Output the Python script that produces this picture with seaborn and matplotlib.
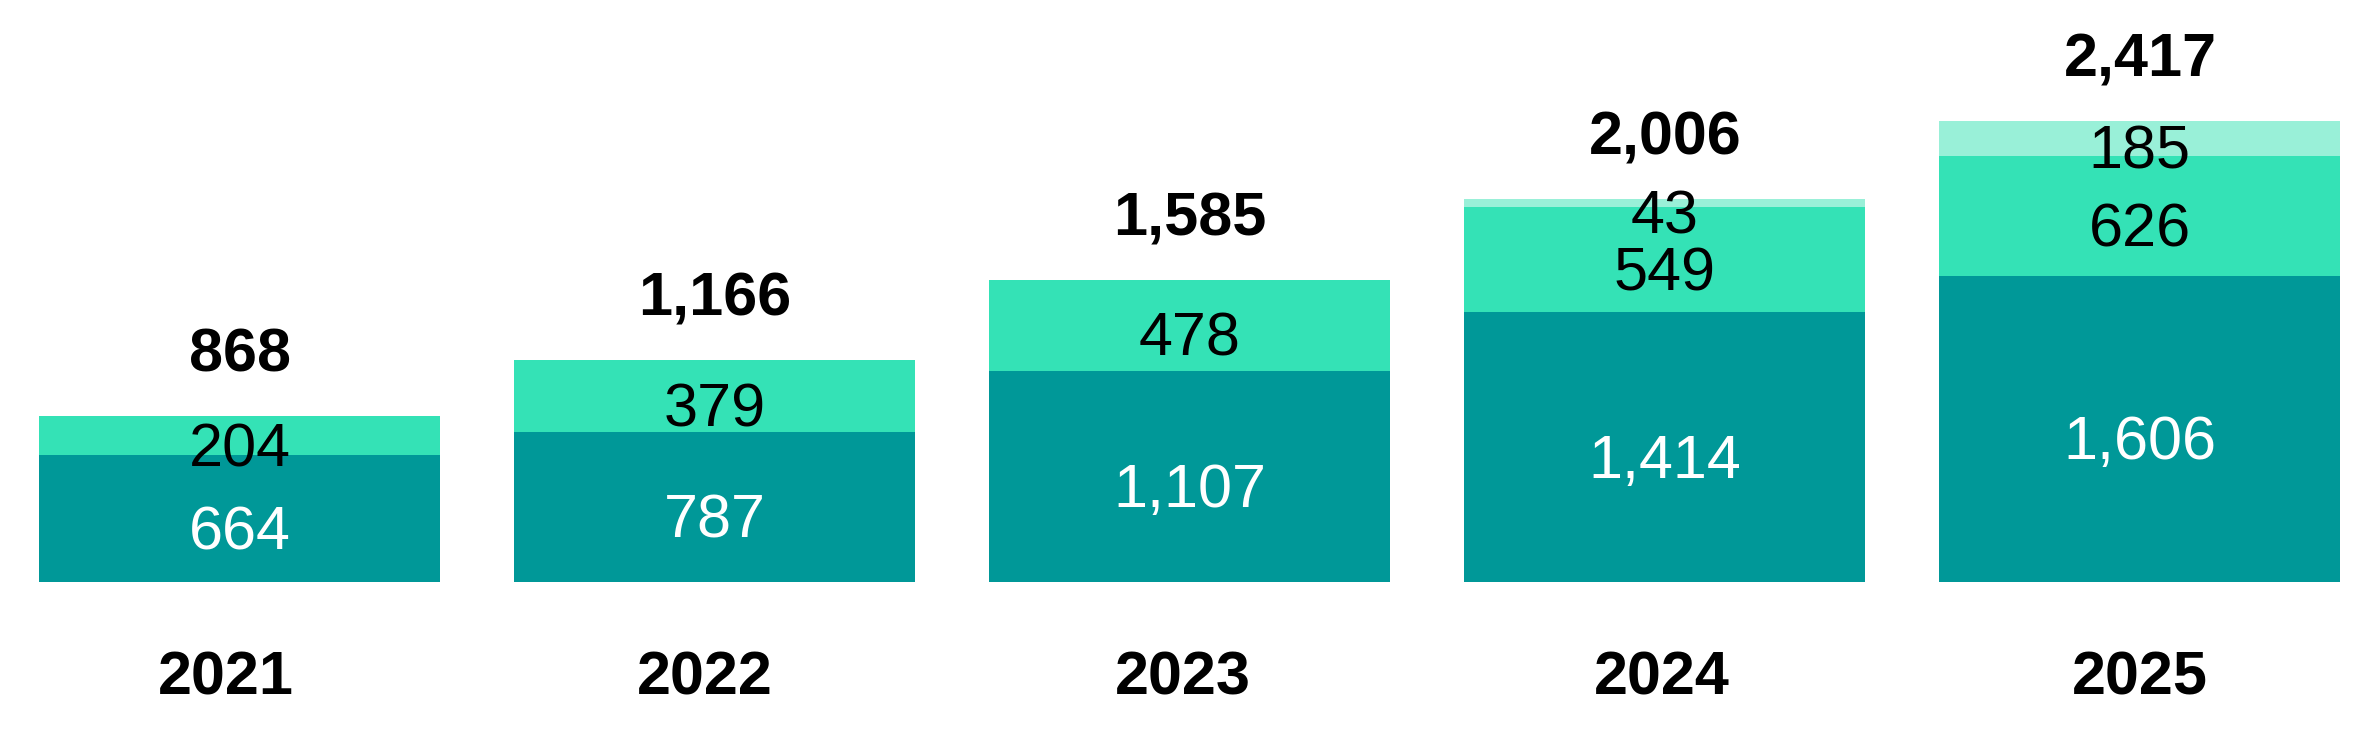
import matplotlib.pyplot as plt
import numpy as np
import pandas as pd
import seaborn as sns

# 数据
years = ["2021", "2022", "2023", "2024", "2025"]
base = [664, 787, 1107, 1414, 1606]
middle = [204, 379, 478, 549, 626]
top = [0, 0, 0, 43, 185]
totals = [868, 1166, 1585, 2006, 2417]

c_base = "#009898"
c_mid = "#34E2B6"
c_top = "#99F0D8"

sns.set_style("white")
plt.rcParams["font.family"] = ["Liberation Sans", "DejaVu Sans"]

df = pd.DataFrame({"year": years, "base": base, "middle": middle, "top": top})
df["lvl2"] = df["base"] + df["middle"]
df["lvl3"] = df["lvl2"] + df["top"]

fig = plt.figure(figsize=(23.76, 7.32), dpi=100)
ax = fig.add_axes([0, 150 / 732, 1, 582 / 732])

# 从上往下画累计高度，形成堆叠效果
for col, c in [("lvl3", c_top), ("lvl2", c_mid), ("base", c_base)]:
    sns.barplot(data=df, x="year", y=col, order=years, color=c, width=0.844,
                saturation=1, linewidth=0, edgecolor="none", ax=ax)

ax.set_xlim(-0.505, 4.497)
ax.set_ylim(0, 3050)
ax.set_xlabel("")
ax.set_ylabel("")
ax.set_xticks([])
ax.set_yticks([])
sns.despine(ax=ax, left=True, bottom=True)

fs = 44
for i in range(len(years)):
    segs = [(0, base[i], "white"),
            (base[i], middle[i], "black"),
            (base[i] + middle[i], top[i], "black")]
    for start, h, col in segs:
        if h <= 0:
            continue
        ax.annotate(f"{h:,}", (i, start + h / 2), xytext=(0, -22),
                    textcoords="offset points", ha="center", va="baseline",
                    fontsize=fs, color=col)
    ax.annotate(f"{totals[i]:,}", (i, totals[i]), xytext=(0, 32),
                textcoords="offset points", ha="center", va="baseline",
                fontsize=fs, fontweight="bold", color="black")
    ax.annotate(years[i], (i, 0), xytext=(-(4 - i) * 2.5, -81),
                textcoords="offset points", ha="center", va="baseline",
                fontsize=fs, fontweight="bold", color="black",
                annotation_clip=False)

fig.savefig("out.png", dpi=100)
